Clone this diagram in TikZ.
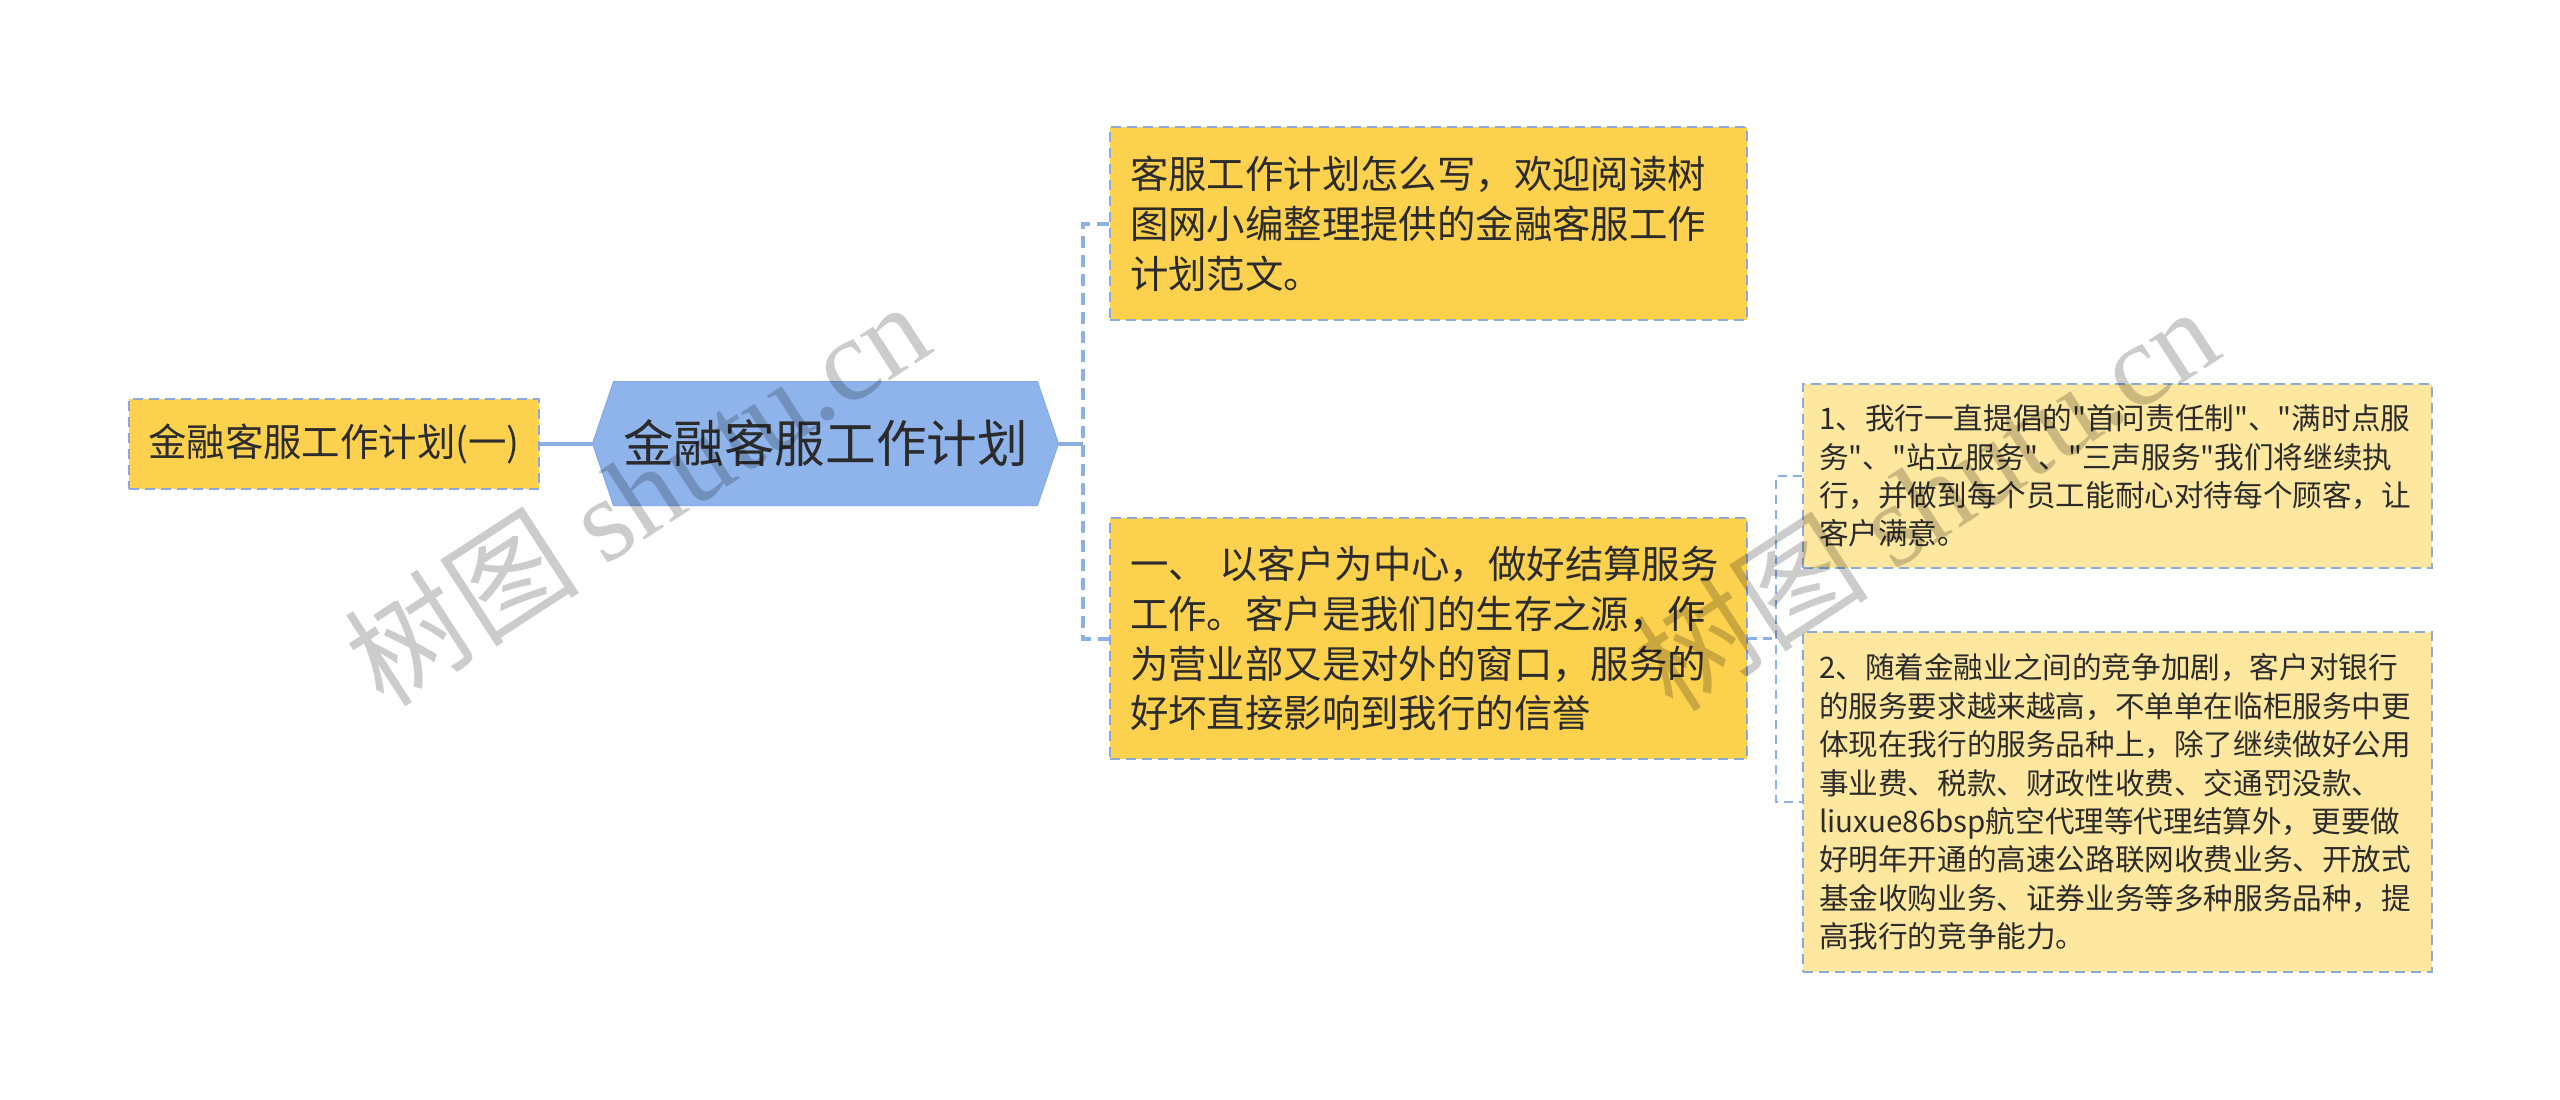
\documentclass[tikz,border=0pt]{standalone}
\usepackage{fontspec}
\setmainfont{Noto Sans CJK SC}
\newfontfamily\cjk{Noto Sans CJK SC}
\newfontfamily\wmserif{Liberation Serif}
\usetikzlibrary{backgrounds}
\definecolor{yel}{HTML}{FCD14E}
\definecolor{lyel}{HTML}{FEE79F}
\definecolor{bord}{HTML}{8DA9DA}
\definecolor{conn}{HTML}{8DB0E4}
\definecolor{hexblue}{HTML}{8FB4EC}
\definecolor{hexedge}{HTML}{84ABE8}
\definecolor{txt}{HTML}{2B2B2B}
\begin{document}
\begin{tikzpicture}[x=0.5pt,y=-0.5pt,
  box/.style={draw=bord, line width=1pt, dash pattern=on 5pt off 3pt, text=txt, align=left, inner ysep=0pt, anchor=center},
  mainbox/.style={box, fill=yel, inner xsep=10pt, text width=298.5pt, font=\cjk\fontsize{19.2pt}{24.9pt}\selectfont},
  subbox/.style={box, fill=lyel, inner xsep=8pt, text width=298.5pt, font=\cjk\fontsize{14.8pt}{19.2pt}\selectfont},
  leftbox/.style={box, fill=yel, align=center, inner xsep=0pt, minimum width=205pt, minimum height=45pt, font=\cjk\fontsize{19.2pt}{24pt}\selectfont},
  hexnode/.style={inner sep=0pt, minimum width=232.5pt, minimum height=61.5pt, text=txt, font=\cjk\fontsize{25.3pt}{30pt}\selectfont},
  connsolid/.style={draw=conn, line width=2pt},
  conndash/.style={draw=conn, line width=2pt, dash pattern=on 6pt off 3.5pt},
  subdash/.style={draw=conn, line width=1.2pt, dash pattern=on 4.5pt off 3pt},
  wm/.style={text=black, text opacity=0.2, inner sep=0pt, font=\cjk\fontsize{59pt}{59pt}\selectfont}
]
\begin{scope}[on background layer]
  \fill[white] (0,0) rectangle (2560,1099);
\end{scope}
\useasboundingbox (0,0) rectangle (2560,1099);

\node[leftbox] (left) at (334,443.5) {金融客服工作计划(一)};
\node[hexnode] (hex) at (825.5,443.5) {金融客服工作计划};
\begin{scope}[on background layer]
  \filldraw[fill=hexblue, draw=hexedge, line width=0.6pt]
    ([xshift=10.5pt]hex.north west) -- ([xshift=-10.5pt]hex.north east) -- (hex.east)
    -- ([xshift=-10.5pt]hex.south east) -- ([xshift=10.5pt]hex.south west) -- (hex.west) -- cycle;
\end{scope}

\node[mainbox, minimum height=96.5pt] (top) at (1428.5,223.5)
  {客服工作计划怎么写，欢迎阅读树\\图网小编整理提供的金融客服工作\\计划范文。};
\node[mainbox, minimum height=120.5pt] (sec) at (1428.5,638.5)
  {一、 以客户为中心，做好结算服务\\工作。客户是我们的生存之源，作\\为营业部又是对外的窗口，服务的\\好坏直接影响到我行的信誉};
\node[subbox, minimum height=92pt] (sub1) at (2117.5,476)
  {1、我行一直提倡的"首问责任制"、"满时点服\\务"、"站立服务"、"三声服务"我们将继续执\\行，并做到每个员工能耐心对待每个顾客，让\\客户满意。};
\node[subbox, minimum height=170pt] (sub2) at (2117.5,802)
  {2、随着金融业之间的竞争加剧，客户对银行\\的服务要求越来越高，不单单在临柜服务中更\\体现在我行的服务品种上，除了继续做好公用\\事业费、税款、财政性收费、交通罚没款、\\liuxue86bsp航空代理等代理结算外，更要做\\好明年开通的高速公路联网收费业务、开放式\\基金收购业务、证券业务等多种服务品种，提\\高我行的竞争能力。};

\coordinate (j1) at (1083,443.5);
\coordinate (j2) at (1776,638.5);
\draw[connsolid] (left.east) -- (hex.west);
\draw[connsolid] (hex.east) -- (j1);
\draw[conndash] (top.west) -- (top.west -| j1) -- (sec.west -| j1) -- (sec.west);
\draw[subdash] (sec.east) -- (j2);
\draw[subdash] (sub1.west) -- (sub1.west -| j2) -- (sub2.west -| j2) -- (sub2.west);

\node[wm, rotate=33] (wm1) at (636,492) {树图 {\wmserif shutu.cn}};
\node[wm, rotate=33] (wm2) at (1925,497) {树图 {\wmserif shutu.cn}};
\end{tikzpicture}
\end{document}
